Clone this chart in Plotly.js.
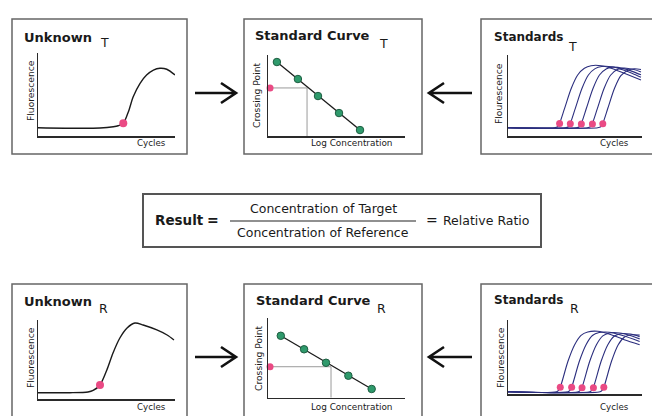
<!DOCTYPE html>
<html><head><meta charset="utf-8">
<script src="https://cdn.plot.ly/plotly-3.0.1.min.js"></script>
<style>html,body{margin:0;padding:0;background:#fff}#chart{width:652px;height:416px}</style>
</head><body><div id="chart"></div>
<script>
// ---------- DATA ----------
// Unknown (target) amplification curve
const unknownT_cycles = [0, 12.3, 18.1, 22.0, 23.4, 24.9, 26.4, 27.8, 29.8, 31.7, 33.7, 35.6, 37.6, 40];
const unknownT_fluor  = [10, 9.3, 9.6, 11.2, 12.4, 15.3, 29.3, 47.3, 63.5, 73.5, 79.5, 81.6, 80.4, 73.5];
const unknownT_cp = [24.9], unknownT_cpF = [15.3];
// Unknown (reference) amplification curve
const unknownR_cycles = [0, 9.3, 14.6, 16.1, 18.1, 20.1, 21.9, 23.9, 26.0, 28.3, 30.7, 34.7, 37.7, 39.7];
const unknownR_fluor  = [8.0, 8.0, 8.9, 10.8, 17.7, 36.7, 58.2, 77.2, 89.9, 96.2, 93.7, 87.4, 81.0, 74.7];
const unknownR_cp = [18.1], unknownR_cpF = [17.7];

// Standard curve (target)
const logConcT = [0.39, 1.31, 2.19, 3.11, 4.03];
const crossPtT = [37.4, 31.1, 24.8, 18.5, 12.2];
const unkLogT = 1.71, unkCpT = 27.8;
// Standard curve (reference)
const logConcR = [0.56, 1.58, 2.54, 3.52, 4.54];
const crossPtR = [33.4, 28.3, 23.2, 18.3, 13.3];
const unkLogR = 2.76, unkCpR = 21.7;

// Standards (target) amplification curves
const stdT1_c = [0, 13.9, 14.8, 15.4, 16.9, 18.9, 20.8, 22.8, 24.8, 27.8, 30.8, 34.7, 39.7];
const stdT1_f = [10.2, 10.2, 11.4, 15.7, 34.2, 58.9, 75.3, 83.6, 86.8, 86.8, 83.6, 77.4, 69.1];
const stdT2_c = [0, 17.1, 18.0, 18.6, 20.1, 22.1, 24.0, 26.0, 28.0, 31.0, 34.0, 37.0, 39.7];
const stdT2_f = [10.2, 10.2, 11.4, 15.7, 34.2, 58.9, 75.3, 83.2, 85.8, 85.5, 82.0, 77.5, 72.5];
const stdT3_c = [0, 20.4, 21.3, 21.9, 23.4, 25.4, 27.3, 29.3, 31.3, 34.3, 37.3, 39.7];
const stdT3_f = [10.2, 10.2, 11.4, 15.7, 34.2, 58.9, 75.3, 82.8, 85.0, 83.5, 79.5, 75.5];
const stdT4_c = [0, 23.7, 24.6, 25.2, 26.7, 28.7, 30.6, 32.6, 34.6, 37.6, 39.7];
const stdT4_f = [10.2, 10.2, 11.4, 15.7, 34.2, 58.9, 75.0, 82.0, 84.0, 82.0, 79.0];
const stdT5_c = [0, 26.8, 27.7, 28.3, 29.8, 31.8, 33.7, 35.7, 37.7, 39.7];
const stdT5_f = [10.2, 10.2, 11.4, 15.7, 34.2, 58.9, 74.5, 81.0, 83.0, 82.0];
const stdT_dotC = [15.4, 18.6, 21.9, 25.2, 28.3];
const stdT_dotF = [15.5, 15.0, 14.8, 14.8, 15.0];

// Standards (reference) amplification curves
const stdR1_c = [0, 14.5, 15.1, 15.6, 17.9, 19.9, 21.8, 23.8, 26.8, 30.8, 34.7, 39.3];
const stdR1_f = [3, 3, 5, 9.1, 44.2, 66.6, 79.3, 83.8, 84.7, 80.1, 73.4, 66.6];
const stdR2_c = [0, 17.9, 18.5, 19.0, 21.3, 23.3, 25.2, 27.2, 30.2, 34.2, 39.3];
const stdR2_f = [3, 3, 5, 9.1, 44.2, 66.6, 79.0, 83.0, 83.5, 79.0, 71.0];
const stdR3_c = [0, 21.0, 21.6, 22.1, 24.4, 26.4, 28.3, 30.3, 33.3, 36.5, 39.3];
const stdR3_f = [3, 3, 5, 9.1, 44.2, 66.6, 78.5, 82.5, 82.5, 79.0, 74.5];
const stdR4_c = [0, 24.4, 25.0, 25.5, 27.8, 29.8, 31.7, 33.7, 36.5, 39.3];
const stdR4_f = [3, 3, 5, 9.1, 44.2, 66.6, 78.0, 81.5, 81.0, 77.5];
const stdR5_c = [0, 27.5, 28.1, 28.6, 30.9, 32.9, 34.8, 36.8, 39.3];
const stdR5_f = [3, 3, 5, 9.1, 44.2, 66.6, 77.0, 80.0, 79.5];
const stdR_dotC = [15.6, 19.0, 22.1, 25.5, 28.6];
const stdR_dotF = [9.1, 9.1, 8.5, 8.5, 9.1];

// Text
const titlesTop = ['Unknown', 'Standard Curve', 'Standards'];
const subTop = 'T', subBot = 'R';
const numText = 'Concentration of Target';
const denText = 'Concentration of Reference';

// ---------- LAYOUT HELPERS ----------
const W = 652, H = 416;
const X = p => p / W, Y = p => 1 - p / H;
const PINK = '#ea4a84', GREEN = '#2f9a6c', NAVY = '#2b2e7e', INK = '#1a1a1a';
const TXT = 'DejaVu Sans, sans-serif';

function ax(domain, range){
  return {domain: domain, range: range, showgrid:false, zeroline:false, showticklabels:false,
          ticks:'', showline:true, linecolor:'#2a2a2a', linewidth:1.5, fixedrange:true};
}
function line(xa, ya, xs, ys, color, width){
  return {x: xs, y: ys, xaxis: xa, yaxis: ya, type:'scatter', mode:'lines',
          line:{color: color, width: width, shape:'spline', smoothing: 0.8}, hoverinfo:'skip'};
}
function dots(xa, ya, xs, ys, color, size, outline){
  return {x: xs, y: ys, xaxis: xa, yaxis: ya, type:'scatter', mode:'markers', cliponaxis:false,
          marker:{color: color, size: size, line:{color: outline || color, width: outline ? 1 : 0}}, hoverinfo:'skip'};
}

const traces = [
  // Unknown T
  line('x','y', unknownT_cycles, unknownT_fluor, INK, 1.4),
  dots('x','y', unknownT_cp, unknownT_cpF, PINK, 8),
  // Standard curve T
  {x:[0, unkLogT, unkLogT], y:[unkCpT, unkCpT, 10], xaxis:'x2', yaxis:'y2', type:'scatter', mode:'lines',
   line:{color:'#9a9a9a', width:1}, hoverinfo:'skip'},
  {x: logConcT, y: crossPtT, xaxis:'x2', yaxis:'y2', type:'scatter', mode:'lines', line:{color:INK, width:1.3}, hoverinfo:'skip'},
  dots('x2','y2', logConcT, crossPtT, GREEN, 7.5, '#1f5e42'),
  dots('x2','y2', [0.09], [unkCpT], PINK, 7),
  // Standards T
  line('x3','y3', stdT1_c, stdT1_f, NAVY, 1.1),
  line('x3','y3', stdT2_c, stdT2_f, NAVY, 1.1),
  line('x3','y3', stdT3_c, stdT3_f, NAVY, 1.1),
  line('x3','y3', stdT4_c, stdT4_f, NAVY, 1.1),
  line('x3','y3', stdT5_c, stdT5_f, NAVY, 1.1),
  dots('x3','y3', stdT_dotC, stdT_dotF, PINK, 7),
  // Unknown R
  line('x4','y4', unknownR_cycles, unknownR_fluor, INK, 1.4),
  dots('x4','y4', unknownR_cp, unknownR_cpF, PINK, 8),
  // Standard curve R
  {x:[0, unkLogR, unkLogR], y:[unkCpR, unkCpR, 10], xaxis:'x5', yaxis:'y5', type:'scatter', mode:'lines',
   line:{color:'#9a9a9a', width:1}, hoverinfo:'skip'},
  {x: logConcR, y: crossPtR, xaxis:'x5', yaxis:'y5', type:'scatter', mode:'lines', line:{color:INK, width:1.3}, hoverinfo:'skip'},
  dots('x5','y5', logConcR, crossPtR, GREEN, 7.5, '#1f5e42'),
  dots('x5','y5', [0.09], [unkCpR], PINK, 7),
  // Standards R
  line('x6','y6', stdR1_c, stdR1_f, NAVY, 1.1),
  line('x6','y6', stdR2_c, stdR2_f, NAVY, 1.1),
  line('x6','y6', stdR3_c, stdR3_f, NAVY, 1.1),
  line('x6','y6', stdR4_c, stdR4_f, NAVY, 1.1),
  line('x6','y6', stdR5_c, stdR5_f, NAVY, 1.1),
  dots('x6','y6', stdR_dotC, stdR_dotF, PINK, 7)
];

function ann(text, x, y, size, opts){
  return Object.assign({text: text, x: X(x), y: Y(y), xref:'paper', yref:'paper', showarrow:false,
    xanchor:'center', yanchor:'middle', font:{family: TXT, size: size, color: INK}}, opts || {});
}
function rotAnn(text, x, y){ return ann(text, x, y, 9.2, {textangle:-90}); }

const annotations = [
  // top titles
  ann('<b>' + titlesTop[0] + '</b>', 22, 37, 13, {xanchor:'left'}),
  ann(subTop, 98, 43, 12.5, {xanchor:'left'}),
  ann('<b>' + titlesTop[1] + '</b>', 253, 35, 13, {xanchor:'left'}),
  ann(subTop, 377, 44, 12.5, {xanchor:'left'}),
  ann('<b>' + titlesTop[2] + '</b>', 492, 37, 12, {xanchor:'left'}),
  ann(subTop, 566, 46, 12.5, {xanchor:'left'}),
  // bottom titles
  ann('<b>' + titlesTop[0] + '</b>', 22, 301, 13, {xanchor:'left'}),
  ann(subBot, 97, 308, 12.5, {xanchor:'left'}),
  ann('<b>' + titlesTop[1] + '</b>', 254, 300, 13, {xanchor:'left'}),
  ann(subBot, 375, 308.5, 12.5, {xanchor:'left'}),
  ann('<b>' + titlesTop[2] + '</b>', 492, 300, 12, {xanchor:'left'}),
  ann(subBot, 568, 308, 12.5, {xanchor:'left'}),
  // axis labels top
  rotAnn('Fluorescence', 30, 91),
  ann('Cycles', 151, 143, 8.7),
  rotAnn('Crossing Point', 257, 95),
  ann('Log Concentration', 351, 143, 8.9),
  rotAnn('Flourescence', 499, 94),
  ann('Cycles', 614, 143, 8.7),
  // axis labels bottom
  rotAnn('Fluorescence', 30, 358),
  ann('Cycles', 151, 407, 8.7),
  rotAnn('Crossing Point', 258, 358),
  ann('Log Concentration', 351, 407, 8.9),
  rotAnn('Flourescence', 500, 358),
  ann('Cycles', 614, 407, 8.7),
  // equation
  ann('<b>Result</b>', 153, 220, 13.5, {xanchor:'left'}),
  ann('<b>=</b>', 213, 220, 14),
  ann(numText, 323, 208, 12.5),
  ann(denText, 323, 232, 12.5),
  ann('=', 432, 220, 14),
  ann('Relative Ratio', 441, 220, 12.5, {xanchor:'left'})
];

function rect(x0, y0, x1, y1, color, width){
  return {type:'rect', xref:'paper', yref:'paper', x0:X(x0), x1:X(x1), y0:Y(y1), y1:Y(y0),
          line:{color: color, width: width}, fillcolor:'rgba(0,0,0,0)'};
}
function seg(x0, y0, x1, y1, color, width){
  return {type:'line', xref:'paper', yref:'paper', x0:X(x0), x1:X(x1), y0:Y(y0), y1:Y(y1),
          line:{color: color, width: width}};
}
function arrow(xTail, xTip, y){
  const dir = xTip > xTail ? 1 : -1;
  const back = xTip - dir * 15;
  const p = (a, b) => X(a) + ',' + Y(b);
  return {type:'path', xref:'paper', yref:'paper',
    path: 'M' + p(xTail, y) + ' L' + p(xTip, y) + ' M' + p(back, y - 10) + ' L' + p(xTip, y) + ' L' + p(back, y + 10),
    line:{color:'#111', width:2.6}};
}

const shapes = [
  rect(12, 19, 187, 154, '#666', 1.5),
  rect(244, 19, 422, 154, '#666', 1.5),
  rect(481, 19, 662, 154, '#666', 1.5),
  rect(12, 284, 187, 440, '#666', 1.5),
  rect(244, 284, 422, 440, '#666', 1.5),
  rect(481, 284, 662, 440, '#666', 1.5),
  rect(143, 194, 541, 247, '#555', 2),
  seg(230, 221, 416, 221, '#222', 1.2),
  arrow(195, 236, 93),
  arrow(472, 429, 93),
  arrow(195, 236, 357),
  arrow(472, 429, 357)
];

const layout = {
  width: W, height: H, margin:{l:0, r:0, t:0, b:0},
  paper_bgcolor:'#ffffff', plot_bgcolor:'rgba(0,0,0,0)', showlegend:false,
  xaxis:  Object.assign(ax([X(38), X(175)], [0, 40]), {anchor:'y'}),
  yaxis:  Object.assign(ax([Y(136), Y(53)], [0, 100]), {anchor:'x'}),
  xaxis2: Object.assign(ax([X(268), X(405)], [0, 6]), {anchor:'y2'}),
  yaxis2: Object.assign(ax([Y(136), Y(55)], [10, 40]), {anchor:'x2'}),
  xaxis3: Object.assign(ax([X(508), X(642)], [0, 40]), {anchor:'y3'}),
  yaxis3: Object.assign(ax([Y(136), Y(55)], [0, 100]), {anchor:'x3'}),
  xaxis4: Object.assign(ax([X(38), X(175)], [0, 40]), {anchor:'y4'}),
  yaxis4: Object.assign(ax([Y(399), Y(320)], [0, 100]), {anchor:'x4'}),
  xaxis5: Object.assign(ax([X(268), X(405)], [0, 6]), {anchor:'y5'}),
  yaxis5: Object.assign(ax([Y(397.7), Y(318.3)], [10, 40]), {anchor:'x5'}),
  xaxis6: Object.assign(ax([X(508), X(642)], [0, 40]), {anchor:'y6'}),
  yaxis6: Object.assign(ax([Y(394), Y(320)], [0, 100]), {anchor:'x6'}),
  annotations: annotations,
  shapes: shapes
};

Plotly.newPlot('chart', traces, layout, {staticPlot:true, displayModeBar:false});
</script>
</body></html>
